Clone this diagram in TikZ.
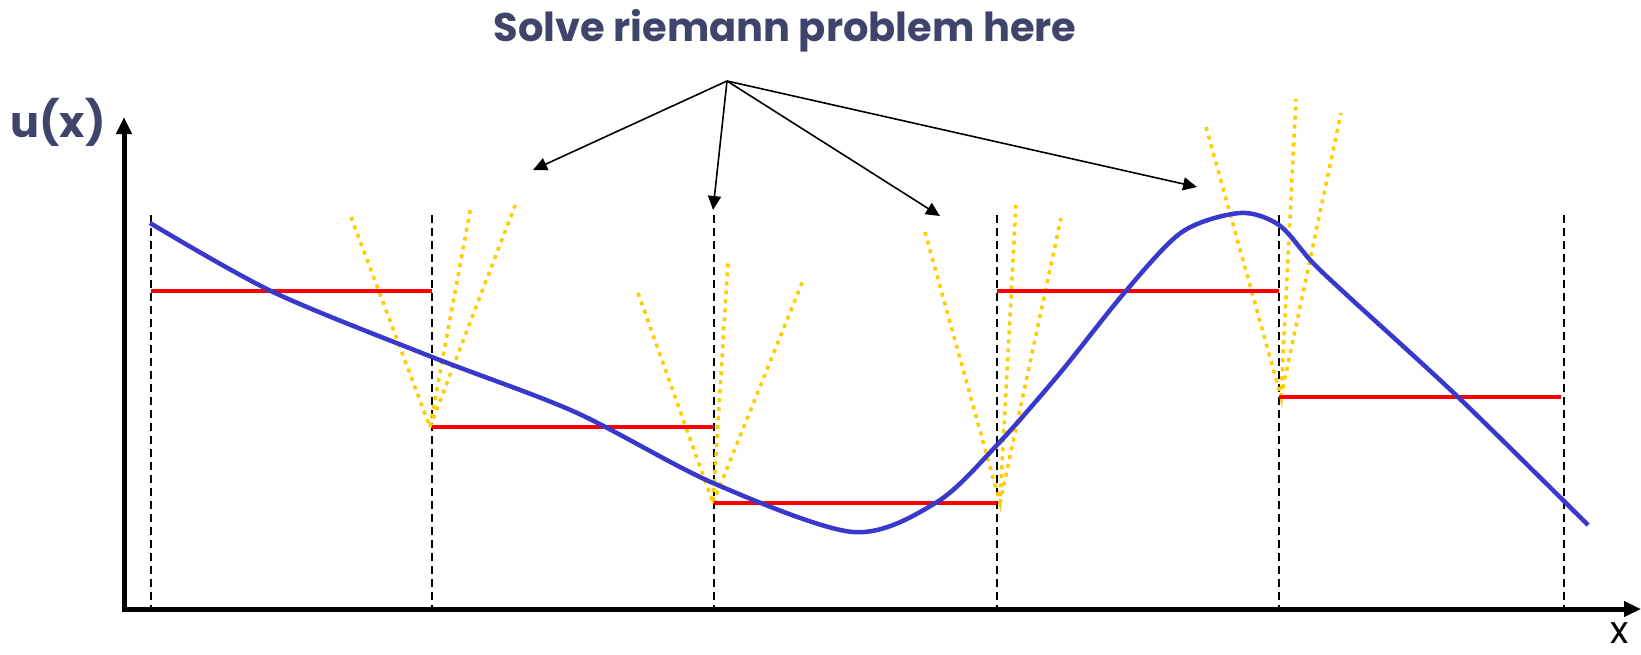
\documentclass[tikz,border=0pt]{standalone}
\usepackage{fontspec}
\setmainfont{Poppins}
\usetikzlibrary{
    arrows.meta,
    positioning
}
\definecolor{titleslate}{RGB}{64,68,106}
\definecolor{curveblue}{RGB}{56,56,204}
\definecolor{fanyellow}{RGB}{255,204,0}

\begin{document}
\begin{tikzpicture}[
    x=1pt,
    y=-1pt,
    axisline/.style={
        line width=5pt,
        -{Triangle[length=17pt,width=15pt]}
    },
    cellline/.style={
        line width=1.4pt,
        dash pattern=on 8pt off 5pt
    },
    cellavg/.style={
        line width=4.5pt,
        red
    },
    wavefan/.style={
        line width=3.5pt,
        fanyellow,
        dash pattern=on 4pt off 5pt
    },
    solution/.style={
        line width=4.5pt,
        curveblue,
        line join=round
    },
    pointer/.style={
        line width=1.6pt,
        -{Triangle[length=14pt,width=13pt]}
    }
]

    \useasboundingbox (0,0) rectangle (1641,654);

    % -------------------------------------------------------
    % Axes
    % -------------------------------------------------------
    \coordinate (origin) at (124,609);
    \coordinate (ytop)   at (124,117);
    \coordinate (xend)   at (1641,609);

    \draw[axisline] (origin) -- (ytop);
    \draw[axisline] ([xshift=-2.5pt]origin) -- (xend);

    \node[
        anchor=base,
        text=titleslate,
        font=\fontsize{43pt}{48pt}\selectfont\bfseries
    ] (ulabel) at (58,137) {u(x)};

    \node[
        anchor=base,
        inner sep=0pt,
        font=\fontsize{38pt}{42pt}\selectfont
    ] (xlabel) at (1620,643) {x};

    % -------------------------------------------------------
    % Cell interfaces
    % -------------------------------------------------------
    \foreach \xc in {151,432,714,997,1279,1564}
        \draw[cellline] (\xc,215) -- (\xc,607);

    % -------------------------------------------------------
    % Wave fans at the interfaces
    % -------------------------------------------------------
    \draw[wavefan] (351,217) -- (430,427) -- (471,206);
    \draw[wavefan] (430,427) -- (516,203);

    \draw[wavefan] (638,293) -- (713,503) -- (728,263);
    \draw[wavefan] (713,503) -- (804,278);

    \draw[wavefan] (925,232) -- (1000,503) -- (1016,205);
    \draw[wavefan] (1000,503) -- (1061,218);

    \draw[wavefan] (1206,127) -- (1281,397) -- (1296,99);
    \draw[wavefan] (1281,397) -- (1341,113);

    % -------------------------------------------------------
    % Cell averages
    % -------------------------------------------------------
    \draw[cellavg] (151,291)  -- (432,291);
    \draw[cellavg] (432,427)  -- (714,427);
    \draw[cellavg] (714,503)  -- (997,503);
    \draw[cellavg] (997,291)  -- (1279,291);
    \draw[cellavg] (1279,397) -- (1561,397);

    % -------------------------------------------------------
    % Exact solution
    % -------------------------------------------------------
    \draw[solution]
        plot[smooth, tension=0.5] coordinates {
            (150,223) (273,292) (432,357) (575,412)
            (713,483) (853,532) (937,502) (997,445) (1060,373)
            (1125,292) (1182,232) (1240,213) (1279,225) (1312,262)
            (1349,297) (1458,397) (1588,525)
        };

    % -------------------------------------------------------
    % Title and pointers
    % -------------------------------------------------------
    \node[
        anchor=base,
        text=titleslate,
        font=\fontsize{40pt}{44pt}\selectfont\bfseries
    ] (title) at (785,41) {Solve riemann problem here};

    \coordinate (hub)  at (727,81);
    \coordinate (tip1) at (533,170);
    \coordinate (tip2) at (713,210);
    \coordinate (tip3) at (940,216);
    \coordinate (tip4) at (1197,187);

    \draw[pointer] (hub) -- (tip1);
    \draw[pointer] (hub) -- (tip2);
    \draw[pointer] (hub) -- (tip3);
    \draw[pointer] (hub) -- (tip4);

\end{tikzpicture}
\end{document}
